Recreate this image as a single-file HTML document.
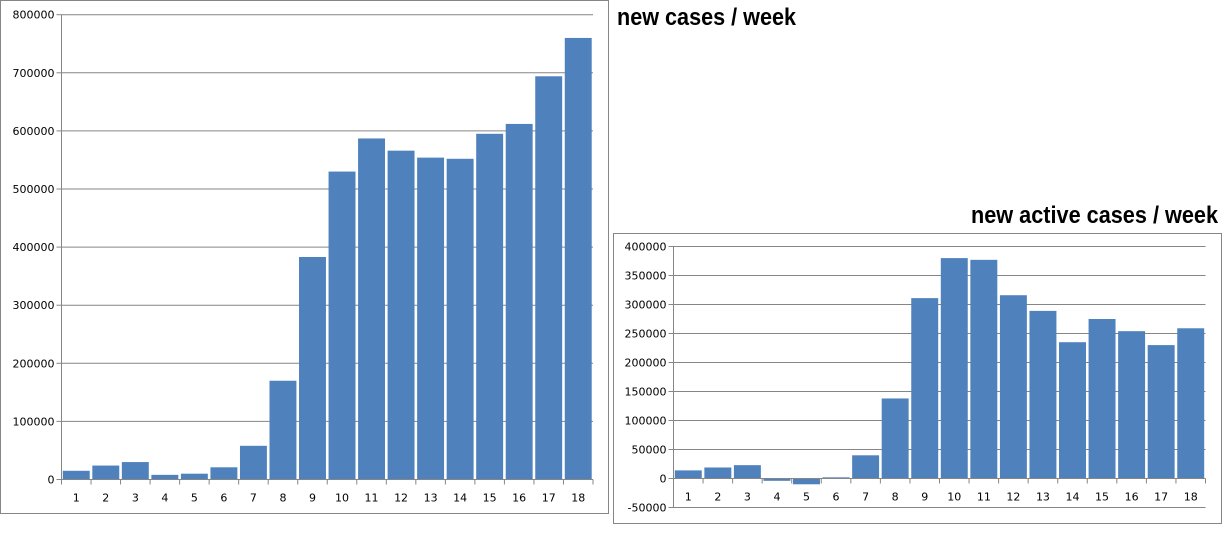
<!DOCTYPE html>
<html><head><meta charset="utf-8"><style>
body{margin:0;background:#fff;width:1232px;height:533px;overflow:hidden}
svg{position:absolute;left:0;top:0}
text{font-family:"DejaVu Sans","Liberation Sans",sans-serif;font-size:11px;fill:#000}
.t{font-family:"Liberation Sans Narrow","Liberation Sans",sans-serif;font-weight:bold;font-size:24px}
</style></head><body>
<svg id="s" width="1232" height="533" xmlns="http://www.w3.org/2000/svg">
<rect x="0.5" y="0.5" width="608" height="513" fill="none" stroke="#868686"/>
<rect x="613.5" y="233.5" width="608" height="290" fill="none" stroke="#868686"/>
<text class="t" x="617" y="25" textLength="179" lengthAdjust="spacingAndGlyphs">new cases / week</text>
<text class="t" x="971" y="223" textLength="247" lengthAdjust="spacingAndGlyphs">new active cases / week</text>
</svg>
<script>
var s=document.getElementById('s'),h='';
function chart(ax,z,ppu,step,ymin,ymax,vals,w){
 for(var v=ymin;v<=ymax;v+=step){var y=z-v*ppu;
  if(v!=0||ymin<0) h+='<line x1="'+ax+'" x2="'+(ax+w)+'" y1="'+y+'" y2="'+y+'" stroke="#868686"/>';
  h+='<line x1="'+(ax-5)+'" x2="'+ax+'" y1="'+y+'" y2="'+y+'" stroke="#868686"/>';
  h+='<text x="'+(ax-7)+'" y="'+(y+4)+'" text-anchor="end">'+v+'</text>';}
 var cw=w/18;
 for(var i=0;i<18;i++){var x=ax+i*cw,v=vals[i],y=z-Math.max(v,0)*ppu,hh=Math.abs(v)*ppu;
  h+='<rect x="'+(x+1.3)+'" y="'+y+'" width="'+(cw-2.6)+'" height="'+hh+'" fill="#4f81bd"/>';
  h+='<text x="'+(x+cw/2)+'" y="'+(z+22)+'" text-anchor="middle">'+(i+1)+'</text>';}
 for(var i=0;i<=18;i++){var x=ax+i*cw;h+='<line x1="'+x+'" x2="'+x+'" y1="'+z+'" y2="'+(z+5)+'" stroke="#868686"/>';}
 h+='<line x1="'+ax+'" x2="'+(ax+w)+'" y1="'+z+'" y2="'+z+'" stroke="#868686"/>';
 h+='<line x1="'+ax+'" x2="'+ax+'" y1="'+(z-ymax*ppu)+'" y2="'+(z-ymin*ppu)+'" stroke="#868686"/>';
}
chart(61.5,479.5,58.1/100000,100000,0,800000,
[15000,24000,30000,8000,10000,21000,58000,170000,383000,530000,587000,566000,554000,552000,595000,612000,694000,760000],531.5);
chart(673.5,478.5,29/50000,50000,-50000,400000,
[14000,19000,23000,-4000,-10000,2000,40000,138000,311000,380000,377000,316000,289000,235000,275000,254000,230000,259000],532);
s.insertAdjacentHTML('beforeend',h);
</script>
</body></html>
